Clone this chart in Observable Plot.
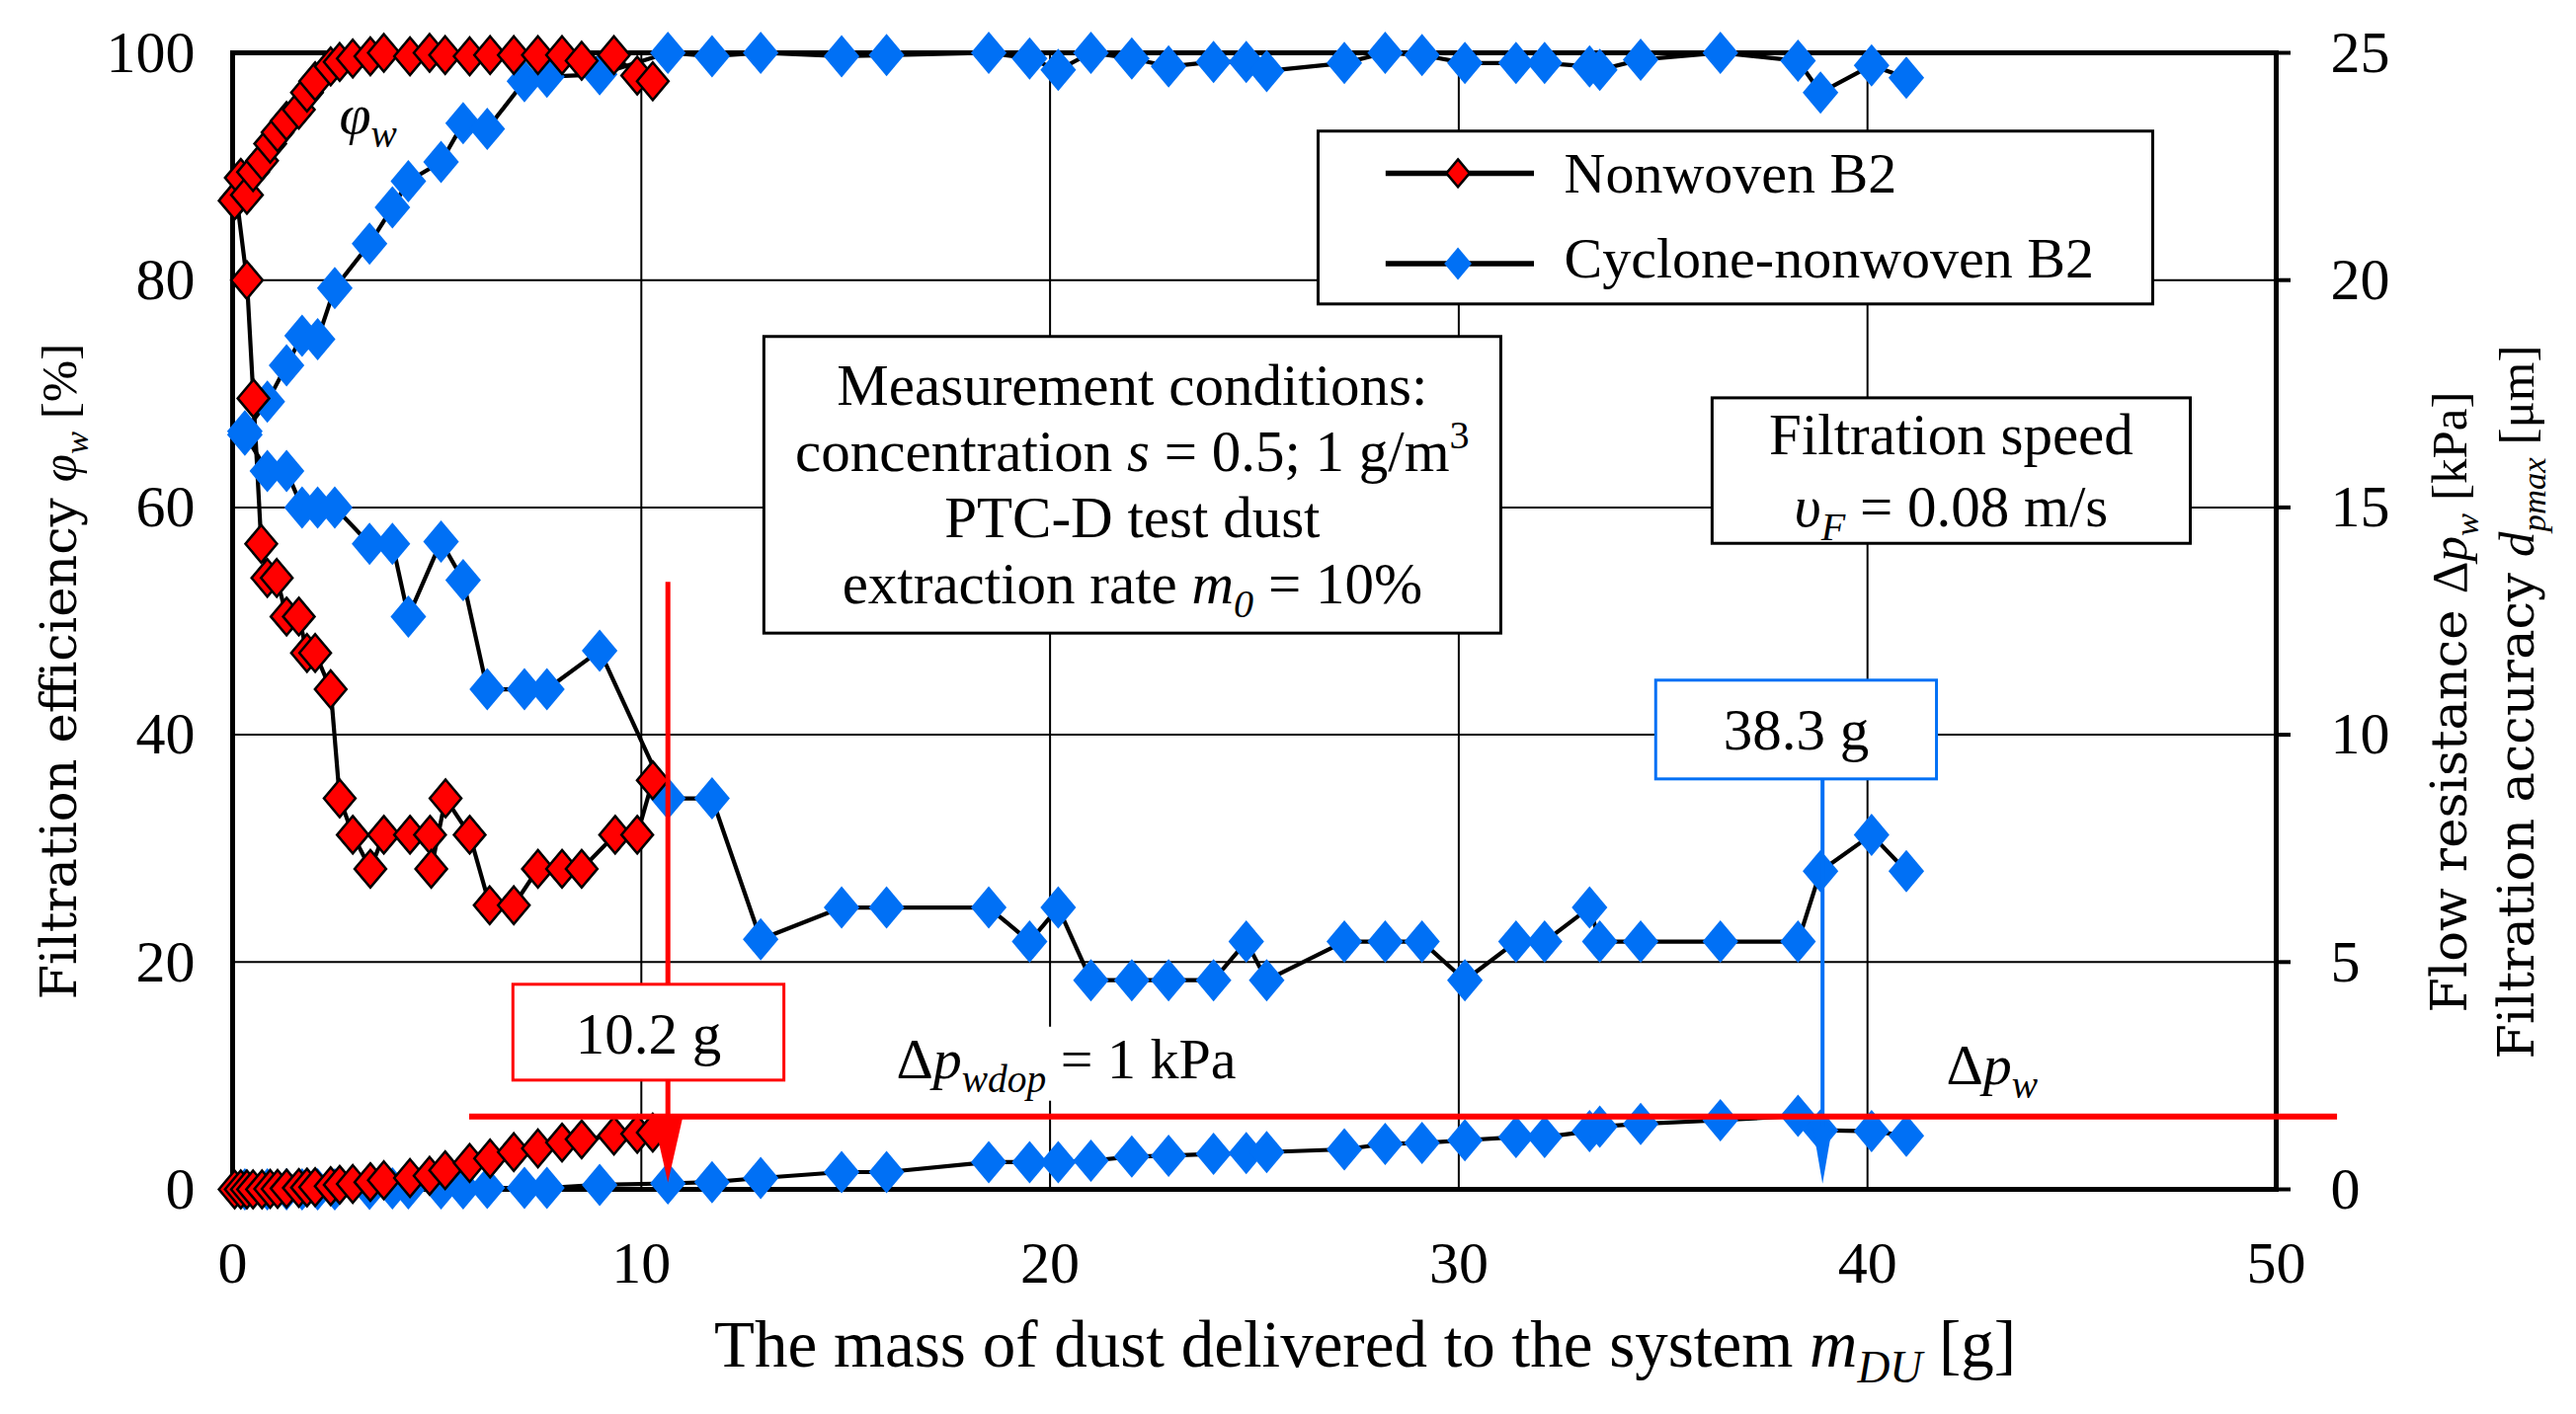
<!DOCTYPE html>
<html><head><meta charset="utf-8">
<script src="https://cdn.jsdelivr.net/npm/d3@7"></script>
<script src="https://cdn.jsdelivr.net/npm/@observablehq/plot@0.6"></script>
<style>
html,body{margin:0;padding:0;background:#fff;}
</style></head><body><div id="chart"></div>
<script>
// ---------- data ----------
const xTicks = [0, 10, 20, 30, 40, 50];
const yLeftTicks = [0, 20, 40, 60, 80, 100];      // Filtration efficiency [%]
const yRightTicks = [0, 5, 10, 15, 20, 25];        // Flow resistance [kPa] / accuracy [µm]

const seriesNames = ["Nonwoven B2", "Cyclone-nonwoven B2"];

// Nonwoven B2
const nonwovenMass = [0.05, 0.2, 0.35, 0.5, 0.72, 0.92, 1.1, 1.32, 1.62, 1.82, 2.02, 2.4, 2.62, 2.94, 3.37, 3.7, 4.34, 4.82, 5.2, 5.8, 6.3, 6.88, 7.47, 8.06, 8.54, 9.33, 9.9, 10.28];
const nonwovenEfficiency = [87, 89, 87.5, 89.5, 90.5, 92, 93, 94, 95, 96.5, 97.5, 98.8, 99.2, 99.5, 99.7, 100, 99.7, 100, 99.8, 99.7, 99.8, 99.8, 99.8, 99.8, 99.3, 99.8, 98, 97.5];
const nonwovenFlowResistance = [0, 0, 0, 0, 0, 0.01, 0.01, 0.02, 0.03, 0.04, 0.05, 0.07, 0.1, 0.12, 0.16, 0.2, 0.25, 0.3, 0.42, 0.58, 0.68, 0.82, 0.9, 1.03, 1.1, 1.18, 1.22, 1.25];
const nonwovenAccuracyMass = [0.1, 0.35, 0.51, 0.7, 0.85, 1.08, 1.32, 1.62, 1.82, 2.02, 2.4, 2.62, 2.94, 3.37, 3.7, 4.34, 4.83, 4.86, 5.21, 5.8, 6.29, 6.88, 7.47, 8.06, 8.54, 9.36, 9.9, 10.28];
const nonwovenAccuracy = [21.8, 20, 17.4, 14.2, 13.45, 13.45, 12.6, 12.6, 11.8, 11.8, 11.0, 8.6, 7.8, 7.05, 7.8, 7.8, 7.8, 7.05, 8.6, 7.8, 6.25, 6.25, 7.05, 7.05, 7.05, 7.8, 7.8, 9.0];

// Cyclone-nonwoven B2
const cycloneMass = [0.3, 0.85, 1.32, 1.7, 2.08, 2.5, 3.35, 3.91, 4.3, 5.1, 5.64, 6.23, 7.14, 7.69, 8.98, 10.65, 11.73, 12.92, 14.9, 16.0, 18.5, 19.5, 20.2, 21.0, 22.0, 22.9, 24.0, 24.8, 25.3, 27.2, 28.2, 29.1, 30.15, 31.4, 32.1, 33.2, 33.45, 34.45, 36.4, 38.3, 38.85, 40.1, 40.95];
const cycloneEfficiency = [66.7, 69.3, 72.5, 75.1, 74.8, 79.3, 83.2, 86.4, 88.7, 90.4, 93.8, 93.3, 97.5, 97.9, 98.1, 100, 99.7, 100, 99.7, 99.8, 100, 99.5, 98.5, 100, 99.5, 98.8, 99.2, 99.2, 98.4, 99.1, 100, 99.8, 99.1, 99.1, 99.1, 98.8, 98.5, 99.4, 100, 99.3, 96.5, 98.9, 97.8];
const cycloneAccuracy = [16.6, 15.8, 15.8, 15.0, 15.0, 15.0, 14.2, 14.2, 12.6, 14.25, 13.4, 11.0, 11.0, 11.0, 11.85, 8.6, 8.6, 5.5, 6.2, 6.2, 6.2, 5.45, 6.2, 4.6, 4.6, 4.6, 4.6, 5.45, 4.6, 5.45, 5.45, 5.45, 4.6, 5.45, 5.45, 6.2, 5.45, 5.45, 5.45, 5.45, 7.0, 7.8, 7.0];
const cycloneFlowResistance = [0, 0, 0, 0, 0, 0, 0.01, 0.02, 0.02, 0.02, 0.02, 0.03, 0.03, 0.03, 0.1, 0.13, 0.16, 0.25, 0.38, 0.38, 0.6, 0.6, 0.6, 0.63, 0.72, 0.74, 0.78, 0.8, 0.82, 0.88, 1.0, 1.02, 1.08, 1.15, 1.15, 1.28, 1.38, 1.44, 1.52, 1.62, 1.3, 1.28, 1.18];

// Annotation values
const thresholdKPa = 1.6;               // red horizontal line (right axis)
const thresholdSpan = [5.8, 51.5];      // mass range covered by it
const markerMassNonwoven = 10.65;       // red arrow
const markerMassCyclone = 38.9;         // blue arrow

// ---------- styles / helpers ----------
const RED = "#ff0000", BLUE = "#0070f5";
const SERIF = "Liberation Serif", WIDE = "DejaVu Serif";
const ratio = yLeftTicks[yLeftTicks.length - 1] / yRightTicks[yRightTicks.length - 1]; // 4

const rowsL = (xs, ys) => xs.map((x, i) => ({x, y: ys[i]}));
const rowsR = (xs, ys) => xs.map((x, i) => ({x, y: ys[i] * ratio}));

const nwEff = rowsL(nonwovenMass, nonwovenEfficiency);
const nwDp = rowsR(nonwovenMass, nonwovenFlowResistance);
const nwAcc = rowsR(nonwovenAccuracyMass, nonwovenAccuracy);
const cyEff = rowsL(cycloneMass, cycloneEfficiency);
const cyDp = rowsR(cycloneMass, cycloneFlowResistance);
const cyAcc = rowsR(cycloneMass, cycloneAccuracy);

const diamond = {draw(ctx, size) {
  const h = Math.sqrt(size / Math.PI), w = h * 0.84;
  ctx.moveTo(0, -h); ctx.lineTo(w, 0); ctx.lineTo(0, h); ctx.lineTo(-w, 0); ctx.closePath();
}};
const arrowHead = (hw, len) => ({draw(ctx) {
  ctx.moveTo(-hw, -len); ctx.lineTo(hw, -len); ctx.lineTo(0, 0); ctx.closePath();
}});

// annotation layout (data units)
const boxes = [
  {x1: 26.57, x2: 46.99, y1: 77.86, y2: 93.07, c: "black"},
  {x1: 13.01, x2: 31.04, y1: 48.9, y2: 75.0, c: "black"},
  {x1: 36.21, x2: 47.91, y1: 56.8, y2: 69.6, c: "black"},
  {x1: 34.83, x2: 41.7, y1: 36.07, y2: 44.76, c: BLUE},
  {x1: 6.87, x2: 13.5, y1: 9.57, y2: 18.0, c: RED}
];
const legendItems = [
  {name: seriesNames[0], x1: 28.21, x2: 31.84, xm: 29.98, y: 89.41, tx: 32.59, ty: 87.67},
  {name: seriesNames[1], x1: 28.21, x2: 31.84, xm: 29.98, y: 81.45, tx: 32.59, ty: 80.15}
];

const lineOpts = {x: "x", y: "y", stroke: "black", strokeWidth: 4.2};
const redDot = {x: "x", y: "y", symbol: diamond, r: 19, fill: RED, stroke: "black", strokeWidth: 2.5};
const blueDot = {x: "x", y: "y", symbol: diamond, r: 21.5, fill: BLUE, stroke: "none"};

const plot = Plot.plot({
  width: 2608, height: 1432,
  marginLeft: 235, marginRight: 304, marginTop: 53, marginBottom: 228,
  x: {domain: [0, 50]},
  y: {domain: [0, 100]},
  style: {background: "white", fontFamily: SERIF, color: "black"},
  marks: [
    Plot.gridX(xTicks.slice(1, -1), {stroke: "black", strokeOpacity: 1, strokeWidth: 2}),
    Plot.gridY(yLeftTicks.slice(1, -1), {stroke: "black", strokeOpacity: 1, strokeWidth: 2}),
    Plot.frame({stroke: "black", strokeWidth: 5}),
    Plot.axisX(xTicks, {tickSize: 0, tickPadding: 52, fontSize: 60, fontFamily: SERIF, label: null}),
    Plot.axisY(yLeftTicks, {anchor: "left", tickSize: 0, tickPadding: 38, fontSize: 60, fontFamily: SERIF, label: null}),
    Plot.axisY(yLeftTicks, {anchor: "right", tickSize: 14, tickPadding: 41, strokeWidth: 4, fontSize: 60, fontFamily: SERIF, label: null, tickFormat: d => d / ratio}),
    // series lines
    Plot.line(cyDp, lineOpts), Plot.line(cyAcc, lineOpts), Plot.line(cyEff, lineOpts),
    Plot.line(nwDp, lineOpts), Plot.line(nwAcc, lineOpts), Plot.line(nwEff, lineOpts),
    // series markers
    Plot.dot(cyDp, blueDot), Plot.dot(cyAcc, blueDot), Plot.dot(cyEff, blueDot),
    Plot.dot(nwDp, redDot), Plot.dot(nwAcc, redDot), Plot.dot(nwEff, redDot),
    // marker lines
    Plot.ruleX([markerMassNonwoven], {y1: 53.4, y2: 3, stroke: RED, strokeWidth: 5}),
    Plot.ruleX([markerMassCyclone], {y1: 36.07, y2: 3, stroke: BLUE, strokeWidth: 4}),
    Plot.ruleY([thresholdKPa * ratio], {x1: thresholdSpan[0], x2: thresholdSpan[1], stroke: RED, strokeWidth: 6}),
    // boxes
    Plot.rect(boxes.filter(b => b.c === "black"), {x1: "x1", x2: "x2", y1: "y1", y2: "y2", fill: "white", stroke: "black", strokeWidth: 3}),
    Plot.rect(boxes.filter(b => b.c === BLUE), {x1: "x1", x2: "x2", y1: "y1", y2: "y2", fill: "white", stroke: BLUE, strokeWidth: 3}),
    Plot.rect(boxes.filter(b => b.c === RED), {x1: "x1", x2: "x2", y1: "y1", y2: "y2", fill: "white", stroke: RED, strokeWidth: 3}),
    // arrow heads
    Plot.dot([{x: markerMassNonwoven, y: 0.6}], {x: "x", y: "y", symbol: arrowHead(15, 66), fill: RED, stroke: "none"}),
    Plot.dot([{x: markerMassCyclone, y: 0.5}], {x: "x", y: "y", symbol: arrowHead(10, 58), fill: BLUE, stroke: "none"}),
    // legend
    Plot.link(legendItems, {x1: "x1", x2: "x2", y1: "y", y2: "y", stroke: "black", strokeWidth: 5.5}),
    Plot.dot(legendItems.slice(0, 1), {x: "xm", y: "y", symbol: diamond, r: 14, fill: RED, stroke: "black", strokeWidth: 2.5}),
    Plot.dot(legendItems.slice(1), {x: "xm", y: "y", symbol: diamond, r: 16.5, fill: BLUE, stroke: "none"})
  ]
});
document.getElementById("chart").appendChild(plot);

// ---------- rich text annotations ----------
const sx = plot.scale("x").apply, sy = plot.scale("y").apply;
const svg = d3.select(plot);
const g = svg.append("g").attr("fill", "black");

function rich({x, y, px, py, parts, size = 59, anchor = "start", family = SERIF, rotate = 0}) {
  const X = px != null ? px : sx(x), Y = py != null ? py : sy(y);
  const t = g.append("text").attr("font-family", family).attr("font-size", size).attr("text-anchor", anchor);
  if (rotate) t.attr("transform", `translate(${X},${Y}) rotate(${rotate})`);
  else t.attr("x", X).attr("y", Y);
  let shift = 0;
  for (const p of parts) {
    const o = typeof p === "string" ? {t: p} : p;
    const ts = t.append("tspan").text(o.t);
    const target = o.sub ? size * 0.24 : o.sup ? -size * 0.38 : 0;
    ts.attr("dy", target - shift); shift = target;
    if (o.sub || o.sup) ts.attr("font-size", size * 0.68);
    if (o.i) ts.attr("font-style", "italic");
    ts.attr("font-family", o.f || SERIF);
  }
  return t;
}

// white background behind Δp_wdop label
const dpLabel = rich({x: 16.25, y: 9.75, size: 58, parts: ["Δ", {t: "p", i: true}, {t: "wdop", i: true, sub: true}, " = 1 kPa"]});
const bb = dpLabel.node().getBBox();
g.insert("rect", () => dpLabel.node()).attr("x", bb.x).attr("y", bb.y).attr("width", bb.width).attr("height", bb.height).attr("fill", "white");

rich({x: 2.62, y: 92.9, size: 58, parts: [{t: "φ", i: true}, {t: "w", i: true, sub: true}]});
rich({x: 41.94, y: 9.2, size: 58, parts: ["Δ", {t: "p", i: true}, {t: "w", i: true, sub: true}]});

const cx = (boxes[1].x1 + boxes[1].x2) / 2;
rich({x: cx, y: 69.0, anchor: "middle", parts: ["Measurement conditions:"]});
rich({x: cx, y: 63.2, anchor: "middle", parts: ["concentration ", {t: "s", i: true}, " = 0.5; 1 g/m", {t: "3", sup: true}]});
rich({x: cx, y: 57.3, anchor: "middle", parts: ["PTC-D test dust"]});
rich({x: cx, y: 51.5, anchor: "middle", parts: ["extraction rate ", {t: "m", i: true}, {t: "0", i: true, sub: true}, " = 10%"]});

const sxm = (boxes[2].x1 + boxes[2].x2) / 2;
rich({x: sxm, y: 64.65, anchor: "middle", parts: ["Filtration speed"]});
rich({x: sxm, y: 58.3, anchor: "middle", parts: [{t: "υ", i: true}, {t: "F", i: true, sub: true}, " = 0.08 m/s"]});

rich({x: (boxes[3].x1 + boxes[3].x2) / 2, y: 38.7, anchor: "middle", parts: ["38.3 g"]});
rich({x: (boxes[4].x1 + boxes[4].x2) / 2, y: 11.9, anchor: "middle", parts: ["10.2 g"]});

for (const it of legendItems) rich({x: it.tx, y: it.ty, size: 58, parts: [it.name]});

// axis titles
rich({px: 723, py: 1384, size: 67, parts: ["The mass of dust delivered to the system ", {t: "m", i: true}, {t: "DU", i: true, sub: true}, " [g]"]});
rich({px: 77, py: 680, rotate: -90, anchor: "middle", size: 51, parts: [{t: "Filtration efficiency ", f: WIDE}, {t: "φ", i: true}, {t: "w", i: true, sub: true}, " [%]"]});
rich({px: 2497, py: 711, rotate: -90, anchor: "middle", size: 51, parts: [{t: "Flow resistance ", f: WIDE}, "Δ", {t: "p", i: true}, {t: "w", i: true, sub: true}, " [kPa]"]});
rich({px: 2565, py: 711, rotate: -90, anchor: "middle", size: 51, parts: [{t: "Filtration accuracy ", f: WIDE}, {t: "d", i: true}, {t: "pmax", i: true, sub: true}, " [μm]"]});
</script>
</body></html>
